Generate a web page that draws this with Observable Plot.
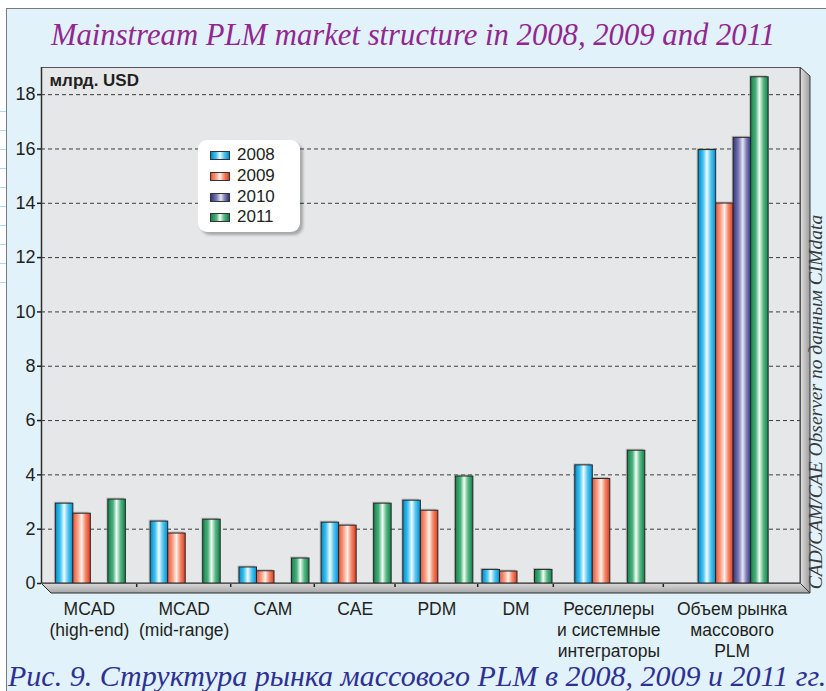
<!DOCTYPE html>
<html>
<head>
<meta charset="utf-8">
<script src="https://cdn.jsdelivr.net/npm/d3@7"></script>
<script src="https://cdn.jsdelivr.net/npm/@observablehq/plot@0.6"></script>
<style>
  body { margin: 0; background: #fff; }
  #page { position: relative; width: 826px; height: 691px; overflow: hidden; font-family: "Liberation Sans", Arial, sans-serif; }
  #bg { position: absolute; left: 6px; top: 8px; right: 0; bottom: 0; background: #e1f2fa; border-left: 1.5px solid #7a7a7a; border-top: 1.5px solid #7a7a7a; }
  #ruled { position: absolute; left: 0; top: 111px; width: 6px; height: 175px;
    background: repeating-linear-gradient(to bottom, #a9d8f0 0, #a9d8f0 1px, transparent 1px, transparent 19px); }
  #title { position: absolute; left: 0; width: 826px; top: 20px; text-align: center; font-family: "Liberation Serif", serif; font-style: italic; font-size: 30.7px; line-height: 30.7px; color: #92278f; white-space: nowrap; }
  #chart { position: absolute; left: 0; top: 60px; }
  #legend { position: absolute; left: 198px; top: 140px; width: 102px; height: 92px; background: #fff; border-radius: 9px; box-shadow: 3px 3px 3px rgba(0,0,0,0.28); }
  .row { position: absolute; left: 0; height: 20px; width: 100px; }
  .sw { position: absolute; left: 12px; top: 6px; width: 20px; height: 9px; border: 0.8px solid #333; box-sizing: border-box; }
  .lab { position: absolute; left: 39px; top: 0; font-size: 17px; line-height: 20px; color: #231f20; }
  #source { position: absolute; left: 816px; top: 402px; transform: translate(-50%, -50%) rotate(-90deg); font-family: "Liberation Serif", serif; font-style: italic; font-size: 19.5px; line-height: 19.5px; color: #3a3a3a; white-space: nowrap; }
  #caption { position: absolute; left: 8px; top: 664px; font-family: "Liberation Serif", serif; font-style: italic; font-size: 30px; line-height: 24px; color: #2e3192; white-space: nowrap; }
</style>
</head>
<body>
<div id="page">
  <div id="bg"></div>
  <div id="ruled"></div>
  <div id="title">Mainstream PLM market structure in 2008, 2009 and 2011</div>
  <div id="chart"></div>
  <div id="legend"></div>
  <div id="source">CAD/CAM/CAE Observer по данным CIMdata</div>
  <div id="caption">Рис. 9. Структура рынка массового PLM в 2008, 2009 и 2011 гг.</div>
</div>
<script>
// ---------- data ----------
const categories = [
  "MCAD\n(high-end)",
  "MCAD\n(mid-range)",
  "CAM",
  "CAE",
  "PDM",
  "DM",
  "Реселлеры\nи системные\nинтеграторы",
  "Объем рынка\nмассового\nPLM"
];
const years = ["2008", "2009", "2010", "2011"];
const values2008 = [2.94, 2.28, 0.59, 2.24, 3.05, 0.50, 4.35, 15.96];
const values2009 = [2.57, 1.84, 0.45, 2.13, 2.68, 0.44, 3.85, 13.99];
const values2010 = [null, null, null, null, null, null, null, 16.41];
const values2011 = [3.09, 2.35, 0.92, 2.94, 3.94, 0.50, 4.89, 18.64];
const yTicks = [0, 2, 4, 6, 8, 10, 12, 14, 16, 18];
const unitLabel = "млрд. USD";

// ---------- layout (not data) ----------
const bandEdges = [0, 95.7, 189.7, 273.3, 354, 436.7, 512.3, 622.3, 759];
const slotW = 17.5;
const gradients = [
  [[0, "#0089c8"], [0.28, "#3ec3f0"], [0.5, "#f2fbff"], [0.72, "#55c6f0"], [1, "#0090d0"]],
  [[0, "#e9553a"], [0.3, "#f7a58c"], [0.5, "#fff1ea"], [0.72, "#f48a6c"], [1, "#dc3a20"]],
  [[0, "#35357f"], [0.3, "#7777b3"], [0.55, "#e6e6f3"], [0.75, "#8383ba"], [1, "#33337c"]],
  [[0, "#0e844d"], [0.3, "#4fb17e"], [0.5, "#f1fff6"], [0.72, "#5cb887"], [1, "#0e7f48"]]
];

const series = [values2008, values2009, values2010, values2011];
const rows = [];
categories.forEach((c, i) => series.forEach((s, j) => {
  if (s[i] != null) rows.push({cat: i, slot: j, year: years[j], value: s[i]});
}));
const bandCenter = i => (bandEdges[i] + bandEdges[i + 1]) / 2;
const barX1 = d => bandCenter(d.cat) + 1.5 - 2 * slotW + d.slot * slotW;
const barX2 = d => barX1(d) + slotW;

const decor = (index, scales, values, dims) => {
  const {width, marginLeft, marginRight, marginTop} = dims;
  const xl = marginLeft, xr = width - marginRight, y0 = scales.y(0), yt = marginTop;
  const g = d3.create("svg:g");
  g.append("path")
    .attr("d", `M${xl},${y0}L${xr},${y0}L${xr + 10},${y0 + 10}L${xl + 10},${y0 + 10}Z`)
    .attr("fill", "url(#floorGrad)").attr("stroke", "#2b2b2b").attr("stroke-width", 1);
  g.append("path")
    .attr("d", `M${xr},${yt}L${xr + 10},${yt + 9}L${xr + 10},${y0 + 10}L${xr},${y0}Z`)
    .attr("fill", "url(#wallGrad)").attr("stroke", "#3a3a3a").attr("stroke-width", 1);
  bandEdges.slice(1, -1).forEach(e => {
    const x = scales.x(e);
    g.append("line").attr("x1", x).attr("x2", x).attr("y1", y0).attr("y2", y0 + 4)
      .attr("stroke", "#222").attr("stroke-width", 1.5);
  });
  return g.node();
};

const svg = Plot.plot({
  width: 826,
  height: 600,
  marginLeft: 41,
  marginRight: 26,
  marginTop: 7,
  marginBottom: 77,
  style: {background: "transparent", fontFamily: "'Liberation Sans', Arial, sans-serif", overflow: "visible"},
  x: {domain: [0, bandEdges[bandEdges.length - 1]], axis: null},
  y: {domain: [0, 19], axis: null},
  marks: [
    Plot.frame({fill: "#e6e7e8", stroke: null}),
    Plot.gridY(yTicks.filter(t => t > 0), {stroke: "#3c3c3c", strokeOpacity: 1, strokeDasharray: "4,3", strokeWidth: 1}),
    decor,
    ...years.map((yr, j) => Plot.rect(rows.filter(d => d.slot === j), {
      x1: barX1, x2: barX2, y1: 0, y2: "value",
      fill: "#9a9a9a", fillOpacity: 0.55, dx: -1.5, dy: -1.5
    })),
    ...years.map((yr, j) => Plot.rect(rows.filter(d => d.slot === j), {
      x1: barX1, x2: barX2, y1: 0, y2: "value",
      fill: `url(#grad${j})`, stroke: "#262626", strokeWidth: 1
    })),
    Plot.ruleY([0], {stroke: "#2b2b2b", strokeWidth: 1}),
    Plot.frame({stroke: "#555", strokeWidth: 1}),
    Plot.ruleX([0], {stroke: "#2e2e2e", strokeWidth: 1.5}),
    Plot.axisY(yTicks, {tickSize: 4, tickPadding: 2, fontSize: 18, color: "#231f20", stroke: "#231f20", strokeWidth: 1.5, label: null}),
    Plot.text(categories, {
      x: (d, i) => bandCenter(i), y: () => 0, text: d => d,
      lineAnchor: "top", textAnchor: "middle", dy: 17, fontSize: 17.5, lineHeight: 1.19, fill: "#231f20"
    }),
    Plot.text([unitLabel], {frameAnchor: "top-left", dx: 8, dy: 6, fontSize: 17, fontWeight: "bold", fill: "#231f20"})
  ]
});

const defs = d3.select(svg).insert("defs", ":first-child");
gradients.forEach((stops, j) => {
  const lg = defs.append("linearGradient").attr("id", `grad${j}`).attr("x1", 0).attr("x2", 1).attr("y1", 0).attr("y2", 0);
  stops.forEach(([o, c]) => lg.append("stop").attr("offset", o).attr("stop-color", c));
});
const fg = defs.append("linearGradient").attr("id", "floorGrad").attr("x1", 0).attr("x2", 0).attr("y1", 0).attr("y2", 1);
fg.append("stop").attr("offset", 0).attr("stop-color", "#dcdcdc");
fg.append("stop").attr("offset", 1).attr("stop-color", "#a4a4a4");
const wg = defs.append("linearGradient").attr("id", "wallGrad").attr("x1", 0).attr("x2", 1).attr("y1", 0).attr("y2", 0);
wg.append("stop").attr("offset", 0).attr("stop-color", "#e2e2e2");
wg.append("stop").attr("offset", 1).attr("stop-color", "#9c9c9c");

document.getElementById("chart").appendChild(svg);

// legend
const legend = document.getElementById("legend");
const rowTops = [5, 26, 46.5, 67];
years.forEach((yr, j) => {
  const row = document.createElement("div");
  row.className = "row";
  row.style.top = rowTops[j] + "px";
  const sw = document.createElement("div");
  sw.className = "sw";
  sw.style.background = `linear-gradient(to right, ${gradients[j].map(([o, c]) => c + " " + (o * 100) + "%").join(", ")})`;
  const lab = document.createElement("div");
  lab.className = "lab";
  lab.textContent = yr;
  row.appendChild(sw); row.appendChild(lab);
  legend.appendChild(row);
});
</script>
</body>
</html>
